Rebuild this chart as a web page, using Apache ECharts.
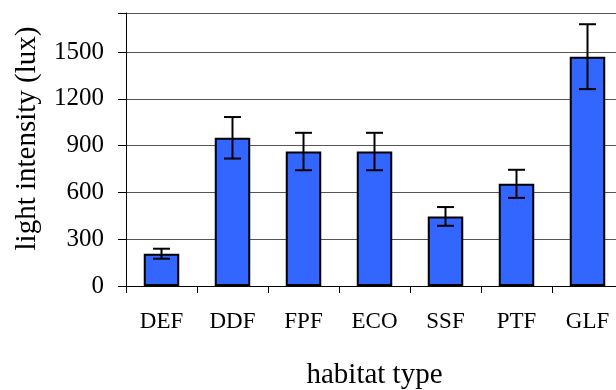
<!DOCTYPE html>
<html>
<head>
<meta charset="utf-8">
<script src="https://cdn.jsdelivr.net/npm/echarts@6/dist/echarts.min.js"></script>
<style>
  html, body { margin: 0; padding: 0; background: #fff; }
  #chart { width: 616px; height: 390px; }
</style>
</head>
<body>
<div id="chart"></div>
<script>
// Mean light intensity per habitat type, with error bar half-widths (lux)
const categories = ['DEF', 'DDF', 'FPF', 'ECO', 'SSF', 'PTF', 'GLF'];
const meanLux = [207, 950, 862, 862, 446, 655, 1470];
const errLux = [32, 133, 120, 120, 60, 90, 208];
const yTicks = [0, 300, 600, 900, 1200, 1500];

const serif = '"Liberation Serif", "Times New Roman", serif';
const chart = echarts.init(document.getElementById('chart'));

chart.setOption({
  animation: false,
  grid: { left: 126, right: -7, top: 13, bottom: 104, containLabel: false, outerBoundsMode: 'none' },
  xAxis: {
    type: 'category',
    data: categories,
    name: 'habitat type',
    nameLocation: 'middle',
    nameGap: 75,
    nameTextStyle: { color: '#000', fontFamily: serif, fontSize: 29 },
    axisLine: { lineStyle: { color: '#000', width: 1 } },
    axisTick: { show: true, length: 7, lineStyle: { color: '#000' } },
    axisLabel: { color: '#000', fontFamily: serif, fontSize: 23, margin: 24 },
    splitLine: { show: false }
  },
  yAxis: {
    type: 'value',
    min: 0,
    max: 1750,
    interval: 300,
    name: 'light intensity (lux)',
    nameLocation: 'middle',
    nameGap: 84,
    nameTextStyle: { color: '#000', fontFamily: serif, fontSize: 29, padding: [0, 0, 0, 22] },
    axisLine: { show: true, lineStyle: { color: '#000', width: 1 } },
    axisTick: { show: true, length: 8, lineStyle: { color: '#000' } },
    axisLabel: {
      color: '#000', fontFamily: serif, fontSize: 25, margin: 22,
      formatter: v => (yTicks.indexOf(v) >= 0 ? String(v) : '')
    },
    splitLine: { show: true, lineStyle: { color: '#555', width: 1 } }
  },
  series: [
    {
      type: 'bar',
      data: meanLux,
      barWidth: '50%',
      itemStyle: { color: '#3366FF', borderColor: '#000', borderWidth: 2 }
    },
    {
      type: 'custom',
      data: meanLux.map((m, i) => [i, m - errLux[i], m + errLux[i]]),
      renderItem: function (params, api) {
        const lo = api.coord([api.value(0), api.value(1)]);
        const hi = api.coord([api.value(0), api.value(2)]);
        const half = 8.5;
        const style = { stroke: '#000', lineWidth: 2 };
        return {
          type: 'group',
          children: [
            { type: 'line', shape: { x1: hi[0], y1: hi[1], x2: lo[0], y2: lo[1] }, style },
            { type: 'line', shape: { x1: hi[0] - half, y1: hi[1], x2: hi[0] + half, y2: hi[1] }, style },
            { type: 'line', shape: { x1: lo[0] - half, y1: lo[1], x2: lo[0] + half, y2: lo[1] }, style }
          ]
        };
      },
      z: 5
    }
  ]
});
</script>
</body>
</html>
